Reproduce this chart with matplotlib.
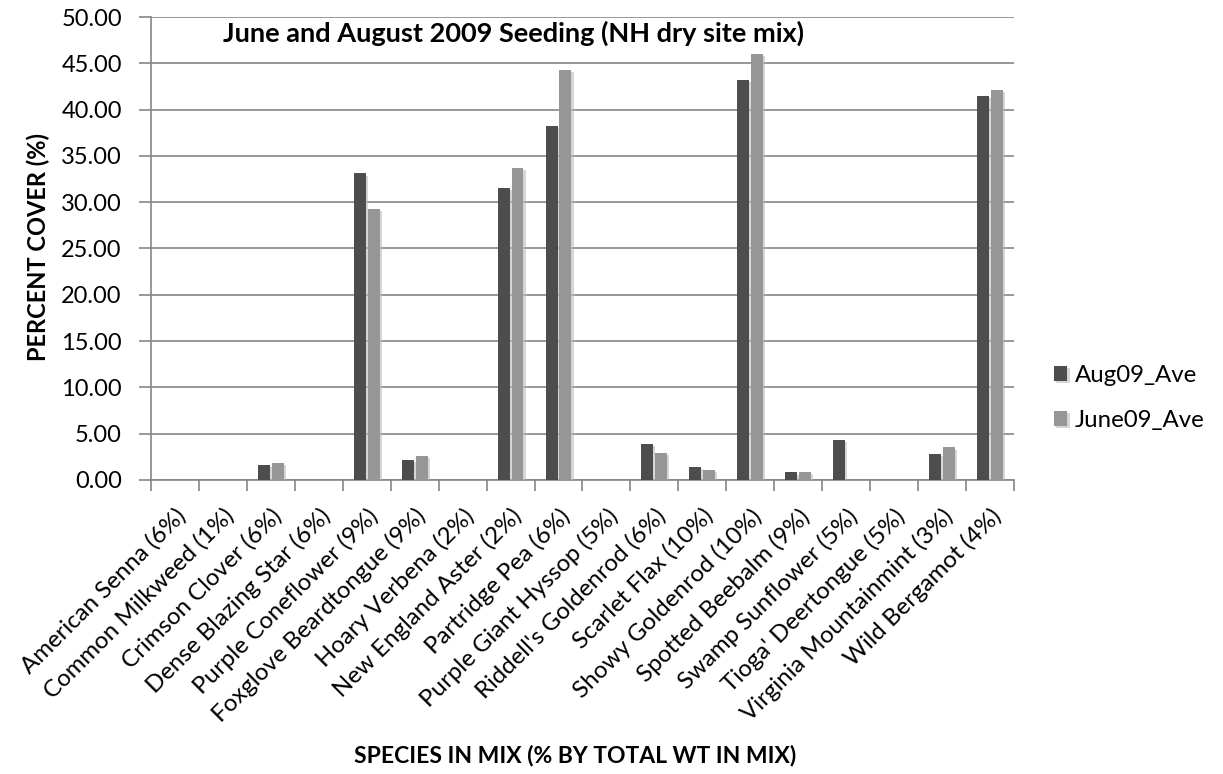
import numpy as np
import matplotlib.pyplot as plt
import matplotlib.patheffects as pe
import matplotlib.transforms as mtrans

plt.rcParams['font.family'] = ['Lato', 'DejaVu Sans']

# species in the seed mix with their share of total weight
species = ["American Senna (6%)", "Common Milkweed (1%)", "Crimson Clover (6%)",
           "Dense Blazing Star (6%)", "Purple Coneflower (9%)", "Foxglove Beardtongue (9%)",
           "Hoary Verbena (2%)", "New England Aster (2%)", "Partridge Pea (6%)",
           "Purple Giant Hyssop (5%)", "Riddell's Goldenrod (6%)", "Scarlet Flax (10%)",
           "Showy Goldenrod (10%)", "Spotted Beebalm (9%)", "Swamp Sunflower (5%)",
           "Tioga' Deertongue (5%)", "Virginia Mountainmint (3%)", "Wild Bergamot (4%)"]

# average percent cover per seeding date
aug09_ave = [0, 0, 1.6, 0, 33.1, 2.2, 0, 31.5, 38.2, 0, 3.9, 1.4, 43.2, 0.8, 4.3, 0, 2.8, 41.5]
june09_ave = [0, 0, 1.8, 0, 29.3, 2.6, 0, 33.7, 44.3, 0, 2.9, 1.1, 46.0, 0.9, 0, 0, 3.5, 42.1]

fig = plt.figure(figsize=(12.23, 7.74), dpi=100)
ax = fig.add_axes([0.1235, 0.380, 0.7055, 0.598])

x = np.arange(len(species))
w = 0.25
shadow = [pe.SimplePatchShadow(offset=(1.5, -1.5), shadow_rgbFace='#bbbbbb', alpha=0.6), pe.Normal()]
b1 = ax.bar(x - w / 2 - 0.02, aug09_ave, w, color='#4d4d4d', zorder=3, label='Aug09_Ave')
b2 = ax.bar(x + w / 2 + 0.02, june09_ave, w, color='#969696', zorder=3, label='June09_Ave')
for b in list(b1) + list(b2):
    b.set_path_effects(shadow)

ax.set_xlim(-0.5, len(species) - 0.5)
ax.set_ylim(0, 50)
ax.set_yticks(np.arange(0, 50.1, 5))
ax.set_yticklabels(['%.2f' % v for v in np.arange(0, 50.1, 5)], fontsize=17)
ax.yaxis.grid(True, color='#868686', linewidth=1.2, zorder=0)

# category labels at centres (top-right corner on the tick), tick marks on the boundaries
ax.set_xticks(x)
ax.set_xticklabels(species, rotation=45, ha='right', va='top', rotation_mode='anchor', fontsize=17.3)
shift = mtrans.ScaledTranslation(3 / 72, 0, fig.dpi_scale_trans)
for lbl in ax.get_xticklabels():
    lbl.set_transform(lbl.get_transform() + shift)
ax.tick_params(axis='x', length=0, pad=18)
ax.set_xticks(np.arange(-0.5, len(species)), minor=True)
ax.tick_params(axis='x', which='minor', length=8, color='#868686', width=1.2)
ax.tick_params(axis='y', length=9, color='#868686', width=1.2, pad=12)

for s in ['top', 'right']:
    ax.spines[s].set_visible(False)
for s in ['left', 'bottom']:
    ax.spines[s].set_color('#868686')
    ax.spines[s].set_linewidth(1.2)

ax.text(0.42, 0.965, 'June and August 2009 Seeding (NH dry site mix)', transform=ax.transAxes,
        ha='center', va='center', fontsize=19.5, fontweight='bold')
fig.text(0.031, 0.681, 'PERCENT COVER (%)', rotation=90, ha='center', va='center',
         fontsize=17, fontweight='bold')
fig.text(0.470, 0.024, 'SPECIES IN MIX (% BY TOTAL WT IN MIX)', ha='center', va='center',
         fontsize=16.5, fontweight='bold')

fig.legend(handles=[b1, b2], loc='center left', bbox_to_anchor=(0.862, 0.486),
           frameon=False, fontsize=17.3, handlelength=0.55, handleheight=0.55,
           handletextpad=0.3, labelspacing=1.0, borderpad=0, borderaxespad=0)

fig.savefig('out.png', dpi=100)
